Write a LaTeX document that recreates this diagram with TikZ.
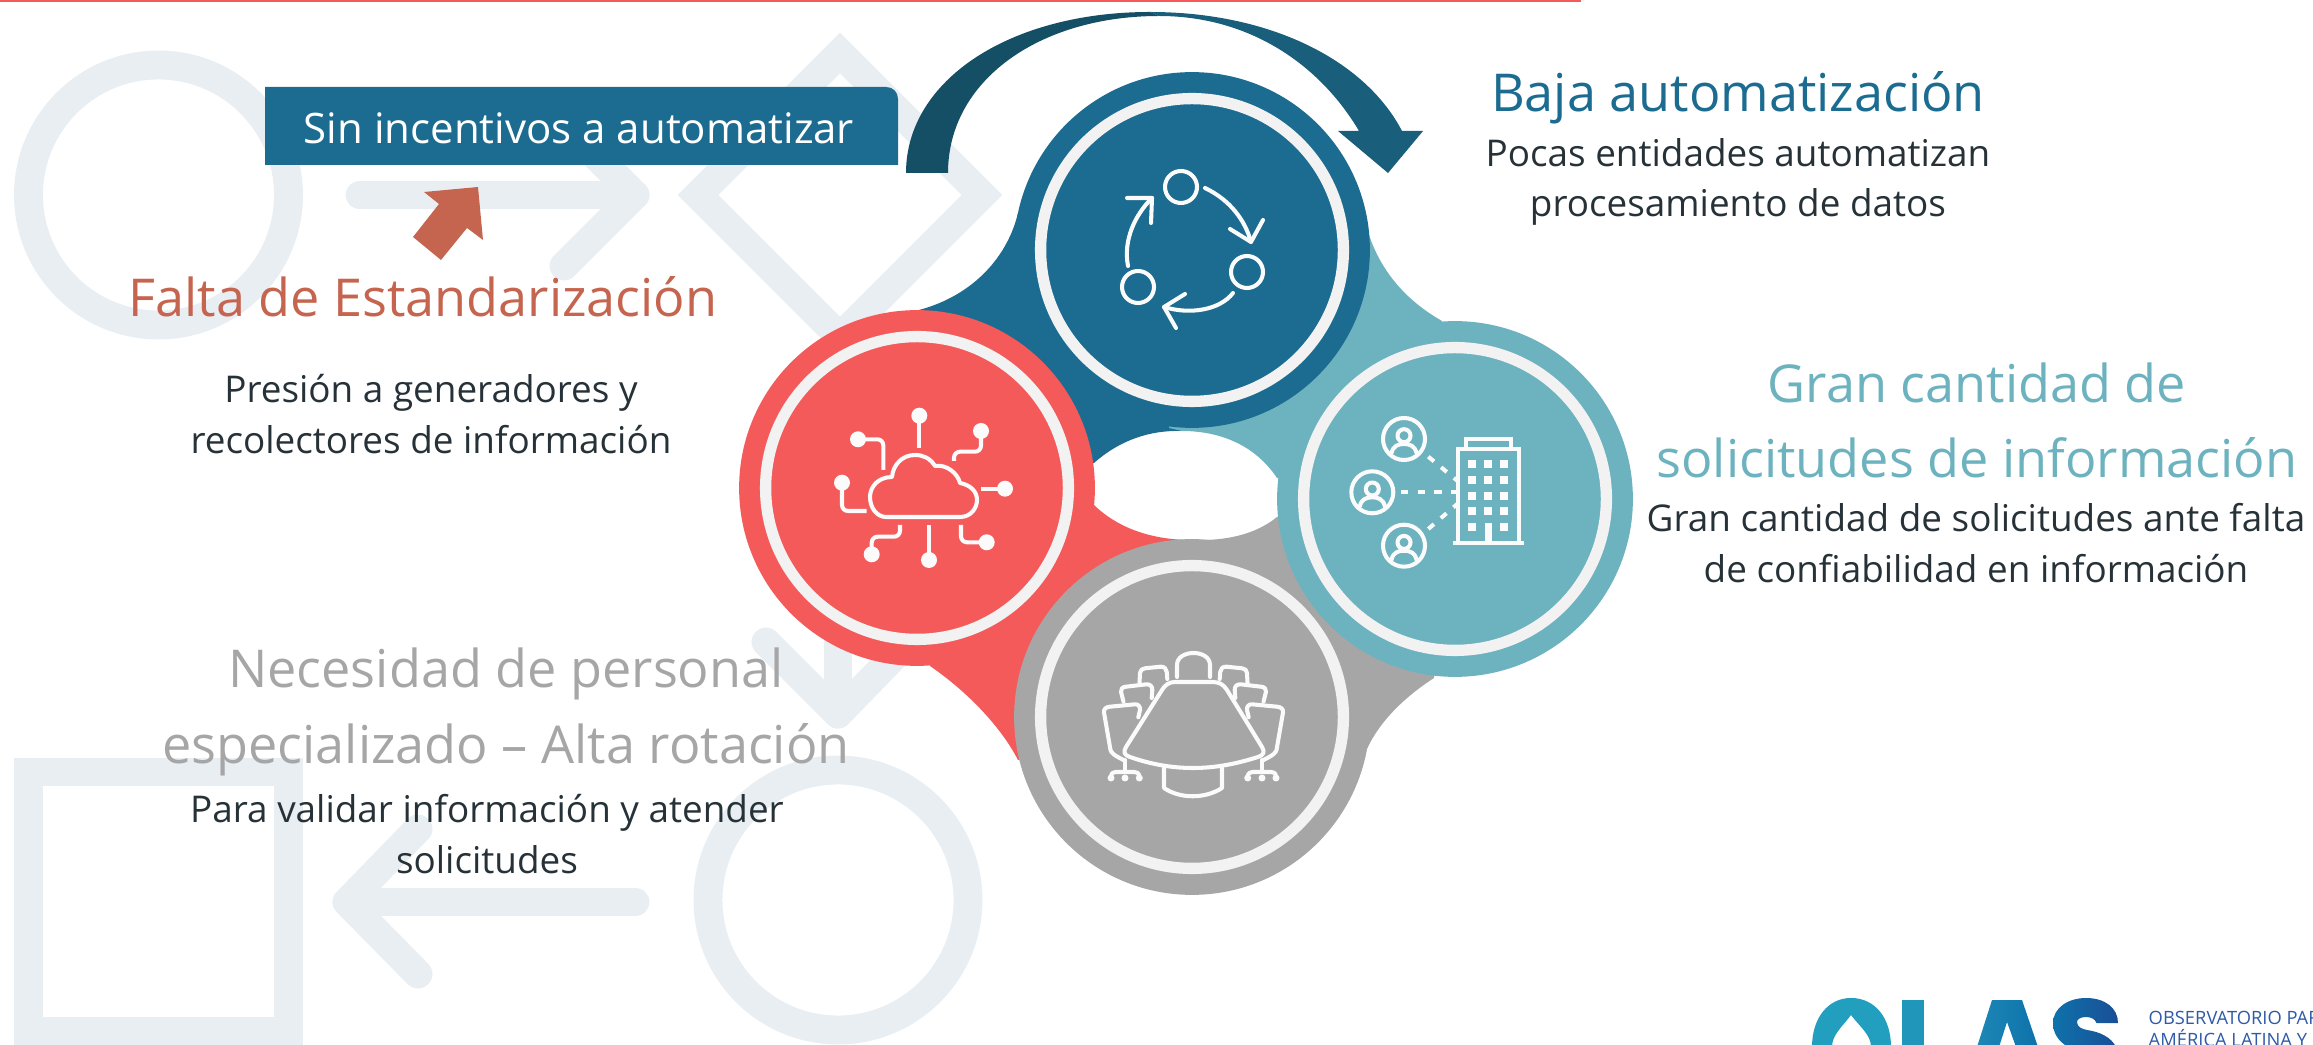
\documentclass[tikz,border=0pt]{standalone}
\usepackage{fontspec}
\setmainfont{Open Sans}
\definecolor{fondo}{HTML}{E9EEF3}
\definecolor{rojoC}{HTML}{F55A5A}
\definecolor{azulC}{HTML}{1C6C91}
\definecolor{azulO}{HTML}{154F66}
\definecolor{azulM}{HTML}{195E7B}
\definecolor{tealC}{HTML}{6DB2BF}
\definecolor{grisC}{HTML}{A6A6A6}
\definecolor{anilloC}{HTML}{F2F2F2}
\definecolor{naranjaC}{HTML}{C5654F}
\definecolor{textoC}{HTML}{263238}
\definecolor{logoT}{HTML}{2E5AA8}
\definecolor{logoO}{HTML}{229EBF}
\definecolor{logoL}{HTML}{2096BA}
\definecolor{logoA}{HTML}{1D87B5}
\definecolor{logoB}{HTML}{0E72AB}
\definecolor{logoS}{HTML}{1A4E96}
\tikzset{
	disco/.style={circle, inner sep=0pt, minimum size=3.545cm},
	anillo/.style={circle, inner sep=0pt, minimum size=3.017cm, draw=anilloC, line width=3.2pt},
	deco/.style={draw=fondo, line width=8.2pt},
	icono/.style={draw=white!97!gray, line width=1.15pt, line cap=round, line join=round},
	punto/.style={fill=white!97!gray},
	titulo/.style={font=\fontsize{14.8}{21.3}\selectfont, align=center, inner sep=0pt},
	cuerpo/.style={font=\fontsize{10.45}{14.3}\selectfont, text=textoC, align=center, inner sep=0pt},
}
\begin{document}
\begin{tikzpicture}[x=0.009958cm,y=-0.009958cm]
	\useasboundingbox (0,0) rectangle (2313,1045);
	\fill[rojoC] (0,0) rectangle (1581,2.5);

	% background marks
	\draw[deco] (158.5,195) circle (130);
	\draw[deco, line cap=round, line join=round] (360,195) -- (635,195);
	\draw[deco, line cap=round, line join=round] (564,124) -- (635,195) -- (564,266);
	\draw[deco, miter limit=10] (840,53) -- (982,195) -- (840,337) -- (698,195) -- cycle;
	\draw[deco, line cap=round, line join=round] (838,440) -- (838,714);
	\draw[deco, line cap=round, line join=round] (766,642) -- (838,714) -- (908,642);
	\draw[deco] (838,900) circle (130);
	\draw[deco, line cap=round, line join=round] (635,902) -- (347,902);
	\draw[deco, line cap=round, line join=round] (418,829) -- (347,902) -- (418,974);
	\draw[deco] (28.5,772) rectangle (288.5,1031);

	% box and arrows
	\fill[azulC] (265,87) -- (886,87) .. controls (893,87) and (898,92) .. (898,99) -- (898,165) -- (265,165) -- cycle;
	\node[font=\fontsize{11.9}{15}\selectfont, text=white, inner sep=0pt] (incentivos) at (579,128) {Sin incentivos a automatizar};
	\fill[azulO] (906,173) .. controls (906,80) and (1010,12) .. (1150,12) -- (1159,16) .. controls (1040,16) and (948,80) .. (948,173) -- cycle;
	\fill[azulM] (1150,12) .. controls (1270,12) and (1365,60) .. (1402,131) -- (1423,131) -- (1388,173) -- (1338,131) -- (1359,131) .. controls (1320,65) and (1250,16) .. (1159,16) -- cycle;
	\fill[naranjaC] (424,192) -- (478,187) -- (483,240) -- (467,228) -- (441,260) -- (413,237) -- (439,204) -- cycle;

	% tails
	\fill[azulC] (1018,213) .. controls (1008,255) and (975,295) .. (919,310) -- (917,488) -- (1094,463) .. controls (1120,440) and (1150,430) .. (1182,431) -- (1192,250) -- cycle;
	\fill[tealC] (1368,232) .. controls (1380,270) and (1405,300) .. (1442,321) -- (1455,499) -- (1277,478) .. controls (1255,445) and (1220,431) .. (1182,431) -- (1169,428) -- (1192,250) -- cycle;
	\fill[rojoC] (930,666) .. controls (965,690) and (1000,725) .. (1018,760) -- (1192,717) -- (1192,540) .. controls (1155,540) and (1120,530) .. (1094,505) -- (917,488) -- cycle;
	\fill[grisC] (1360,768) .. controls (1370,730) and (1400,700) .. (1434,678) -- (1455,499) -- (1277,517) .. controls (1255,535) and (1225,541) .. (1192,540) -- (1192,717) -- cycle;

	% circles
	\node[disco, fill=azulC] (azul) at (1192,250) {};
	\node[disco, fill=rojoC] (rojo) at (917,488) {};
	\node[disco, fill=grisC] (gris) at (1192,717) {};
	\node[disco, fill=tealC] (teal) at (1455,499) {};
	\foreach \n in {azul, rojo, gris, teal}
		\node[anillo] (anillo\n) at (\n) {};

	% cycle icon
	\foreach \x/\y in {1181/187, 1247/272, 1138/287}
		\draw[icono] (\x,\y) circle (16);
	\draw[icono] (1205,188) .. controls (1230,200) and (1245,220) .. (1251,242);
	\draw[icono] (1230,229) -- (1251,242) -- (1263,220);
	\draw[icono] (1233,293) .. controls (1220,310) and (1190,315) .. (1164,307);
	\draw[icono] (1185,294) -- (1164,307) -- (1176,328);
	\draw[icono] (1128,266) .. controls (1123,240) and (1135,215) .. (1152,198);
	\draw[icono] (1127,198) -- (1152,198) -- (1151,223);

	% cloud icon
	\draw[icono] (886,517) -- (960,517) .. controls (971,517) and (977,508) .. (977,500) .. controls (977,491) and (970,485) .. (960,483) .. controls (958,474) and (947,464) .. (935,466) .. controls (930,458) and (923,455) .. (915,455) .. controls (902,455) and (893,465) .. (892,477) .. controls (878,477) and (870,487) .. (870,497) .. controls (870,508) and (877,517) .. (886,517) -- cycle;
	\foreach \x/\y in {919.3/415.7, 858/439.3, 981/431, 842/482.7, 1005/488.7, 871.7/554.3, 929/560, 986.7/542.3}
		\fill[punto] (\x,\y) circle (8);
	\draw[icono, line cap=butt] (919.3,447.7) -- (919.3,415.7);
	\draw[icono, line cap=butt, rounded corners=1.7pt] (858,439.3) -- (883.3,439.3) -- (883.3,470);
	\draw[icono, line cap=butt, rounded corners=1.7pt] (981,431) -- (981,451.7) -- (954,451.7) -- (954,461);
	\draw[icono, line cap=butt, rounded corners=1.7pt] (842,482.7) -- (842,511) -- (866.7,511);
	\draw[icono, line cap=butt] (1005,488.7) -- (981,488.7);
	\draw[icono, line cap=butt, rounded corners=1.7pt] (900,525) -- (900,536.7) -- (871.7,536.7) -- (871.7,554.3);
	\draw[icono, line cap=butt] (929,525) -- (929,560);
	\draw[icono, line cap=butt, rounded corners=1.7pt] (961,525) -- (961,542.3) -- (986.7,542.3);

	% building icon
	\foreach \x/\y in {1404/439, 1372.3/492.3, 1404/545.7} {
		\begin{scope}[shift={(\x,\y)}]
			\draw[icono] (0,0) circle (21);
			\draw[icono] (0,-3.3) circle (6.5);
			\draw[icono] (-12.5,14) .. controls (-11,7) and (-6,5) .. (0,5) .. controls (6,5) and (11,7) .. (12.5,14);
		\end{scope}
	}
	\draw[icono, line cap=butt, dash pattern=on 2.1pt off 2.6pt] (1428.3,456.7) -- (1457.3,480.7);
	\draw[icono, line cap=butt, dash pattern=on 2.1pt off 2.6pt] (1401,492.3) -- (1457,492.3);
	\draw[icono, line cap=butt, dash pattern=on 2.1pt off 2.6pt] (1428.3,529) -- (1457.3,504);
	\draw[icono, line cap=butt, line join=miter] (1458,543) -- (1458,449.3) -- (1518.7,449.3) -- (1518.7,543);
	\draw[icono, line cap=butt, line join=miter] (1466,449.3) -- (1466,439.3) -- (1510.7,439.3) -- (1510.7,449.3);
	\draw[icono, line cap=butt] (1452.7,543) -- (1524,543);
	\foreach \y in {464, 480, 496, 511.3}
		\foreach \x in {1472, 1488, 1504}
			\fill[punto] (\x-4,\y-4) rectangle (\x+4,\y+4);
	\fill[punto] (1468,522.7) rectangle (1476,530.7);
	\fill[punto] (1500,522.7) rectangle (1508,530.7);
	\fill[punto] (1484.5,523) rectangle (1492,543);

	% table icon
	\draw[icono] (1175,682) -- (1212,682) .. controls (1219,682) and (1223,684) .. (1227,690) -- (1262,747) .. controls (1265,752) and (1264,755) .. (1258,757) .. controls (1236,764) and (1215,768) .. (1193,768) .. controls (1171,768) and (1150,764) .. (1130,757) .. controls (1124,755) and (1123,752) .. (1126,747) -- (1162,690) .. controls (1165,685) and (1169,682) .. (1175,682) -- cycle;
	\draw[icono] (1164,768) -- (1164,788) .. controls (1180,799) and (1205,799) .. (1222,788) -- (1222,768);
	\draw[icono] (1177,677) -- (1177,665) .. controls (1177,649) and (1210,649) .. (1210,665) -- (1210,677);
	\foreach \lado in {1,-1} {
		\begin{scope}[shift={(1193.5,0)}, xscale=\lado]
			\draw[icono] (-54,683) -- (-53.5,673) .. controls (-53.5,670) and (-51,668.5) .. (-48.5,668.3) -- (-33,666.7) .. controls (-29,666.5) and (-27,669) .. (-26.7,672) -- (-26.2,679);
			\draw[icono] (-70,701.7) -- (-72.5,691.7) .. controls (-73,689) and (-71,687) .. (-67.5,686.7) -- (-47,684.3) .. controls (-43,684) and (-41,687) .. (-41.2,690) -- (-41.8,698);
			\draw[icono] (-55.2,717.3) -- (-53.5,710) .. controls (-53,707) and (-55,704) .. (-58.5,704.3) -- (-83.5,706.7) .. controls (-87.5,707) and (-90,709) .. (-89.5,712.5) -- (-83,750) .. controls (-82,753) and (-80,755) .. (-70,760);
			\draw[icono] (-68.5,760) -- (-68.5,772);
			\draw[icono] (-82.5,777) .. controls (-82.5,773) and (-80,772) .. (-78,772) -- (-59,772) .. controls (-57,772) and (-54.2,773) .. (-54.2,777);
			\foreach \x in {-82.5, -68.5, -54.2}
				\fill[punto] (\x,778) circle (3.5);
		\end{scope}
	}

	% texts
	\node[titulo, text=azulC] (bajatit) at (1738,98) {Baja automatización};
	\node[cuerpo] (bajatxt) at (1738,182) {Pocas entidades automatizan\\procesamiento de datos};
	\node[titulo, text=naranjaC] (faltatit) at (423,297) {Falta de Estandarización};
	\node[cuerpo] (faltatxt) at (431,414) {Presión a generadores y\\recolectores de información};
	\node[titulo, text=tealC] (grantit) at (1977,420) {Gran cantidad de\\solicitudes de información};
	\node[cuerpo] (grantxt) at (1976,543) {Gran cantidad de solicitudes ante falta\\de confiabilidad en información};
	\node[titulo, text=grisC] (necetit) at (506,712) {Necesidad de personal\\especializado – Alta rotación};
	\node[cuerpo] (necetxt) at (487,834) {Para validar información y atender\\solicitudes};

	% logo
	\fill[logoO] (1812,1047) .. controls (1812,1018) and (1828,998) .. (1851,998) .. controls (1875,998) and (1891,1018) .. (1891,1047) -- (1871,1047) .. controls (1871,1035) and (1860,1027) .. (1851,1015) .. controls (1842,1027) and (1832,1035) .. (1832,1047) -- cycle;
	\fill[logoL] (1902,1000) rectangle (1924,1047);
	\shade[left color=logoA, right color=logoB] (1992,1000) -- (2022,1000) -- (2038,1047) -- (2016,1047) -- (2007,1022) -- (1999,1047) -- (1977,1047) -- cycle;
	\shade[left color=logoB, right color=logoS] (2118,1023) -- (2096.5,1023) .. controls (2095,1019) and (2091,1017) .. (2086,1017) .. controls (2081,1017) and (2077,1019) .. (2077,1022) .. controls (2077,1027) and (2082,1029) .. (2087,1030) .. controls (2100,1032) and (2111,1037) .. (2116,1047) -- (2068,1047) .. controls (2058,1041) and (2053,1033) .. (2053,1023) .. controls (2053,1008) and (2068,998) .. (2086,998) .. controls (2105,998) and (2118,1008) .. (2118,1023) -- cycle;
	\node[anchor=west, inner sep=0pt, font=\fontsize{5.2}{6}\selectfont, text=logoT] (logouno) at (2148,1018) {OBSERVATORIO PAR};
	\node[anchor=west, inner sep=0pt, font=\fontsize{5.2}{6}\selectfont, text=logoT] (logodos) at (2148,1038) {AMÉRICA LATINA Y};
\end{tikzpicture}
\end{document}
